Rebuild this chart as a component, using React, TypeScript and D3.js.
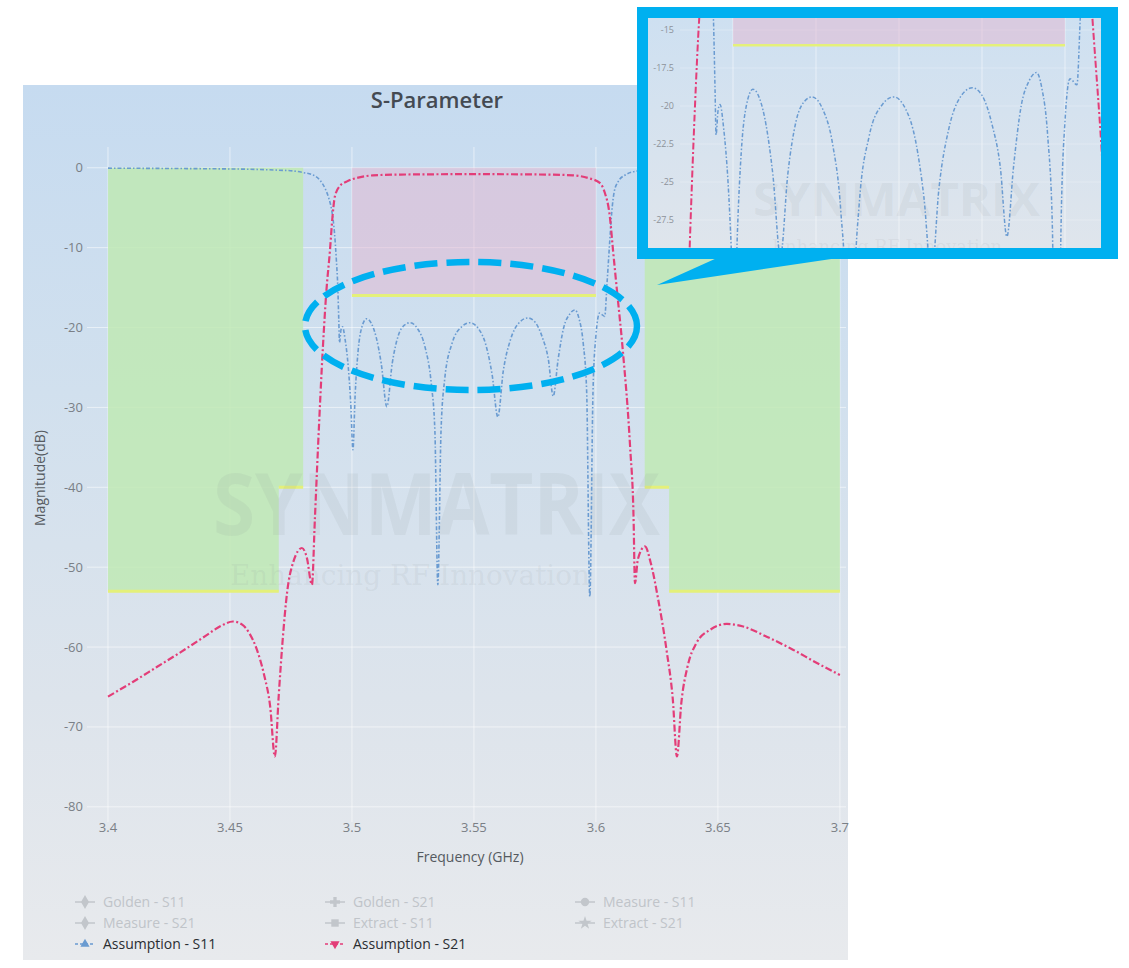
import React from 'react';
import * as d3 from 'd3';

// ---------------- data ----------------
const xTickValues = [3.4, 3.45, 3.5, 3.55, 3.6, 3.65, 3.7];
const yTickValues = [0, -10, -20, -30, -40, -50, -60, -70, -80];
const insetYTickValues = [-15, -17.5, -20, -22.5, -25, -27.5];
const insetXGridValues = [3.5, 3.525, 3.55, 3.575, 3.6];

const s11Freq = [
  3.4, 3.42, 3.44, 3.46, 3.47, 3.476, 3.48, 3.484, 3.487, 3.489, 3.4905, 3.4918, 3.4928, 3.4936, 3.4942,
  3.4946, 3.4949, 3.4955, 3.4961, 3.4972, 3.4985, 3.4995, 3.5004, 3.5013, 3.5025, 3.504, 3.506, 3.508,
  3.51, 3.512, 3.5143, 3.5165, 3.519, 3.5215, 3.5238, 3.527, 3.53, 3.5325, 3.534, 3.5352, 3.5365, 3.538,
  3.541, 3.545, 3.5484, 3.552, 3.555, 3.5575, 3.5598, 3.562, 3.565, 3.5685, 3.5721, 3.575, 3.578, 3.5805,
  3.5825, 3.5845, 3.5868, 3.5893, 3.5914, 3.593, 3.5948, 3.5962, 3.5975, 3.5988, 3.6, 3.6015, 3.6036,
  3.6046, 3.6056, 3.6065, 3.6075, 3.609, 3.612, 3.617, 3.625, 3.65, 3.7,
];
const s11Db = [
  -0.05, -0.08, -0.12, -0.2, -0.3, -0.4, -0.6, -0.9, -1.6, -2.6, -3.8, -5.5, -8, -11.5, -15,
  -19, -21.9, -20.3, -19.9, -21.5, -25, -29.5, -35.3, -28.5, -23, -20, -18.9, -19.5,
  -21.3, -24.5, -29.9, -24.5, -21, -19.7, -19.4, -20.2, -22.5, -27, -33, -52.2, -33, -26.5,
  -22, -19.9, -19.4, -20.2, -22.3, -26, -31.2, -25.5, -21.5, -19.4, -18.8, -19.3, -21.2, -24,
  -28.6, -24, -20, -18.3, -17.8, -18.8, -22, -28, -53.7, -28, -21, -18.2, -18.6,
  -14.2, -9.5, -5.5, -3, -1.8, -0.9, -0.4, -0.2, -0.12, -0.08,
];

const s21Freq = [
  3.4, 3.41, 3.42, 3.43, 3.44, 3.446, 3.4512, 3.455, 3.458, 3.461, 3.464, 3.4665, 3.4684, 3.47, 3.4715,
  3.4734, 3.476, 3.4795, 3.4815, 3.4836, 3.4848, 3.4861, 3.4881, 3.4895, 3.491, 3.492, 3.493, 3.495,
  3.498, 3.503, 3.5086, 3.52, 3.55, 3.58, 3.5906, 3.597, 3.6016, 3.6035, 3.6057, 3.607, 3.6086, 3.611,
  3.614, 3.6154, 3.616, 3.6172, 3.6201, 3.6225, 3.6255, 3.629, 3.6315, 3.6332, 3.635, 3.6375, 3.641,
  3.647, 3.6537, 3.66, 3.67, 3.68, 3.69, 3.7,
];
const s21Db = [
  -66.2, -64.4, -62.5, -60.6, -58.6, -57.4, -56.8, -57.2, -58.3, -60.3, -63.5, -67.5, -73.7, -66, -59.5,
  -53.2, -49.3, -47.6, -48.8, -52.2, -44, -34.9, -22.4, -15.5, -10.3, -6.2, -3.6, -2.3,
  -1.7, -1.2, -0.95, -0.85, -0.8, -0.85, -0.95, -1.3, -1.9, -3, -6.1, -10.3, -15.3, -22.8,
  -34.9, -43.5, -52, -49, -47.4, -49.5, -54, -60.5, -66.5, -73.7, -67, -62.5, -59.6,
  -57.8, -57.1, -57.4, -58.7, -60.2, -61.9, -63.5,
];

const stopLeftFreq = [3.4, 3.48, 3.47];
const stopRightFreq = [3.7, 3.62, 3.63];
const stopLevels = [0, -40, -53];
const passFreq = [3.5, 3.6];
const passLevels = [0, -16];

const legendNames = [
  'Golden - S11', 'Golden - S21', 'Measure - S11',
  'Measure - S21', 'Extract - S11', 'Extract - S21',
  'Assumption - S11', 'Assumption - S21',
];
const legendShown = [false, false, false, false, false, false, true, true];

const chartTitle = 'S-Parameter';
const xTitle = 'Frequency (GHz)';
const yTitle = 'Magnitude(dB)';
const watermark = 'SYNMATRIX';
const watermarkSub = 'Enhancing RF Innovation';

// ---------------- component ----------------
const FONT = "'Open Sans', 'Noto Sans', sans-serif";
const S11_COLOR = '#6a9bd1';
const S21_COLOR = '#e33d78';
const FRAME = '#00b0f0';

type P = [number, number];

export default function App() {
  const x = d3.scaleLinear().domain([3.3914, 3.7025]).range([87, 846]);
  const y = d3.scaleLinear().domain([2.6, -81.9]).range([147, 822]);
  const xi = d3.scaleLinear().domain([3.5, 3.6]).range([733, 1065]);
  const yi = d3.scaleLinear().domain([-15, -27.5]).range([30, 220]);

  const s11: P[] = s11Freq.map((f, i) => [f, s11Db[i]]);
  const s21: P[] = s21Freq.map((f, i) => [f, s21Db[i]]);

  const lineMain = d3.line<P>().x(d => x(d[0])).y(d => y(d[1])).curve(d3.curveMonotoneX);
  const lineInset = d3.line<P>().x(d => xi(d[0])).y(d => yi(d[1])).curve(d3.curveMonotoneX);

  const stepPoly = (fr: number[], lv: number[]): P[] => [
    [fr[0], lv[0]], [fr[1], lv[0]], [fr[1], lv[1]], [fr[2], lv[1]], [fr[2], lv[2]], [fr[0], lv[2]],
  ];
  const polyPath = (pts: P[], sx: any, sy: any) =>
    'M' + pts.map(p => `${sx(p[0])},${sy(p[1])}`).join('L') + 'Z';
  const stepEdge = (fr: number[], lv: number[], sx: any, sy: any) =>
    `M${sx(fr[1])},${sy(lv[1])}L${sx(fr[2])},${sy(lv[1])}M${sx(fr[2])},${sy(lv[2])}L${sx(fr[0])},${sy(lv[2])}`;

  const passRect = (sx: any, sy: any) => ({
    x: sx(passFreq[0]), y: sy(passLevels[0]),
    w: sx(passFreq[1]) - sx(passFreq[0]), h: sy(passLevels[1]) - sy(passLevels[0]),
  });
  const pm = passRect(x, y);
  const pi = passRect(xi, yi);

  const legendCols = [85, 335, 585];
  const legendRows = [902, 923, 944];
  const symbols = [
    d3.symbolDiamond, d3.symbolCross, d3.symbolCircle, d3.symbolDiamond,
    d3.symbolSquare, d3.symbolStar, d3.symbolTriangle, d3.symbolTriangle,
  ];

  return (
    <svg width={1129} height={968} style={{ position: 'absolute', left: 0, top: 0 }} fontFamily={FONT}>
      <defs>
        <linearGradient id="panelBg" x1="0" y1="0" x2="0" y2="1">
          <stop offset="0" stopColor="#c6dbf0" />
          <stop offset="0.35" stopColor="#d1e0ee" />
          <stop offset="0.7" stopColor="#dde4ec" />
          <stop offset="1" stopColor="#e8eaed" />
        </linearGradient>
        <linearGradient id="insetBg" x1="0" y1="0" x2="0" y2="1">
          <stop offset="0" stopColor="#cee0f1" />
          <stop offset="1" stopColor="#dfe5ec" />
        </linearGradient>
        <clipPath id="plotClip">
          <rect x={87} y={147} width={759} height={675} />
        </clipPath>
        <clipPath id="insetClip">
          <rect x={680} y={18} width={421} height={230} />
        </clipPath>
        <clipPath id="insetAll">
          <rect x={648} y={18} width={453} height={230} />
        </clipPath>
      </defs>

      {/* panel */}
      <rect x={23} y={85} width={825} height={875} fill="url(#panelBg)" />

      {/* grid */}
      <g stroke="#ffffff" strokeOpacity={0.55} strokeWidth={1}>
        {xTickValues.map(t => (
          <line key={'gx' + t} x1={x(t)} x2={x(t)} y1={147} y2={822} />
        ))}
        {yTickValues.map(t => (
          <line key={'gy' + t} x1={87} x2={846} y1={y(t)} y2={y(t)} />
        ))}
      </g>

      {/* masks */}
      <g>
        <path d={polyPath(stepPoly(stopLeftFreq, stopLevels), x, y)} fill="#bfe9b4" fillOpacity={0.85} />
        <path d={polyPath(stepPoly(stopRightFreq, stopLevels), x, y)} fill="#bfe9b4" fillOpacity={0.85} />
        <rect x={pm.x} y={pm.y} width={pm.w} height={pm.h} fill="#e4b6d0" fillOpacity={0.5} />
        <path d={stepEdge(stopLeftFreq, stopLevels, x, y)} stroke="#e4f07a" strokeWidth={3} fill="none" />
        <path d={stepEdge(stopRightFreq, stopLevels, x, y)} stroke="#e4f07a" strokeWidth={3} fill="none" />
        <line x1={x(passFreq[0])} x2={x(passFreq[1])} y1={y(passLevels[1])} y2={y(passLevels[1])}
          stroke="#e4f07a" strokeWidth={3} />
      </g>

      {/* watermark */}
      <g fill="#8a8f96" fillOpacity={0.11}>
        <text x={213} y={535} fontSize={86} fontWeight={700} textLength={447} lengthAdjust="spacingAndGlyphs">{watermark}</text>
        <text x={230} y={585} fontSize={28} fontFamily="'DejaVu Serif', serif" textLength={360}
          lengthAdjust="spacingAndGlyphs">{watermarkSub}</text>
      </g>

      {/* curves */}
      <g clipPath="url(#plotClip)" fill="none">
        <path d={lineMain(s11) || ''} stroke={S11_COLOR} strokeWidth={1.6} strokeDasharray="4,2,1.5,2" />
        <path d={lineMain(s21) || ''} stroke={S21_COLOR} strokeWidth={2.2} strokeDasharray="7,2.5,2,2.5" />
      </g>

      {/* axes labels */}
      <g fontSize={13} fill="#7a7f86">
        {xTickValues.map(t => (
          <text key={'tx' + t} x={x(t)} y={832} textAnchor="middle">{String(t)}</text>
        ))}
        {yTickValues.map(t => (
          <text key={'ty' + t} x={83} y={y(t)} dy="0.35em" textAnchor="end">{String(t)}</text>
        ))}
      </g>
      <text x={470} y={862} fontSize={14} fill="#555a60" textAnchor="middle">{xTitle}</text>
      <text transform="translate(45,478) rotate(-90)" fontSize={14} fill="#555a60" textAnchor="middle">{yTitle}</text>
      <text x={437} y={108} fontSize={22} fontWeight={600} fill="#444a52" textAnchor="middle">{chartTitle}</text>

      {/* legend */}
      <g>
        {legendNames.map((name, i) => {
          const cx = legendCols[i % 3];
          const cy = legendRows[Math.floor(i / 3)];
          const shown = legendShown[i];
          const col = i === 6 ? S11_COLOR : i === 7 ? S21_COLOR : '#c2c6cb';
          const sym = d3.symbol().type(symbols[i]).size(i >= 6 ? 36 : 55)();
          return (
            <g key={name}>
              <line x1={cx - 10} x2={cx + 10} y1={cy} y2={cy} stroke={col} strokeWidth={1.5}
                strokeDasharray={shown ? '3,2' : undefined} />
              <path d={sym || ''} transform={`translate(${cx},${cy})${i === 7 ? ' rotate(180)' : ''}`} fill={col} />
              <text x={cx + 18} y={cy} dy="0.35em" fontSize={14} fill={shown ? '#2a2d31' : '#c0c4c9'}>{name}</text>
            </g>
          );
        })}
      </g>

      {/* dashed ellipse */}
      <ellipse cx={471} cy={326} rx={166} ry={64} fill="none" stroke={FRAME} strokeWidth={6.5} strokeDasharray="23,9" />

      {/* inset */}
      <rect x={637} y={7} width={481} height={252} fill={FRAME} />
      <polygon points="717,258 657,285 838,258" fill={FRAME} />
      <rect x={648} y={18} width={453} height={230} fill="url(#insetBg)" />
      <g clipPath="url(#insetAll)">
        <g stroke="#ffffff" strokeOpacity={0.5}>
          {insetXGridValues.map(t => (
            <line key={'ig' + t} x1={xi(t)} x2={xi(t)} y1={18} y2={248} />
          ))}
          {insetYTickValues.map(t => (
            <line key={'igy' + t} x1={680} x2={1101} y1={yi(t)} y2={yi(t)} strokeOpacity={0.25} />
          ))}
        </g>
        <g clipPath="url(#insetClip)">
          <rect x={pi.x} y={pi.y} width={pi.w} height={pi.h} fill="#e4b6d0" fillOpacity={0.5} />
          <line x1={xi(passFreq[0])} x2={xi(passFreq[1])} y1={yi(passLevels[1])} y2={yi(passLevels[1])}
            stroke="#e4f07a" strokeWidth={2.5} />
          <g fill="#8a8f96" fillOpacity={0.11}>
            <text x={753} y={216} fontSize={46} fontWeight={700} textLength={287} lengthAdjust="spacingAndGlyphs">{watermark}</text>
            <text x={772} y={253} fontSize={18} fontFamily="'DejaVu Serif', serif" textLength={230}
              lengthAdjust="spacingAndGlyphs">{watermarkSub}</text>
          </g>
          <path d={lineInset(s11) || ''} fill="none" stroke={S11_COLOR} strokeWidth={1.5} strokeDasharray="4,2,1.5,2" />
          <path d={lineInset(s21) || ''} fill="none" stroke={S21_COLOR} strokeWidth={2} strokeDasharray="7,2.5,2,2.5" />
        </g>
        <g fontSize={9} fill="#8d9299">
          {insetYTickValues.map(t => (
            <text key={'ity' + t} x={674} y={yi(t)} dy="0.35em" textAnchor="end">{String(t)}</text>
          ))}
        </g>
      </g>
    </svg>
  );
}
